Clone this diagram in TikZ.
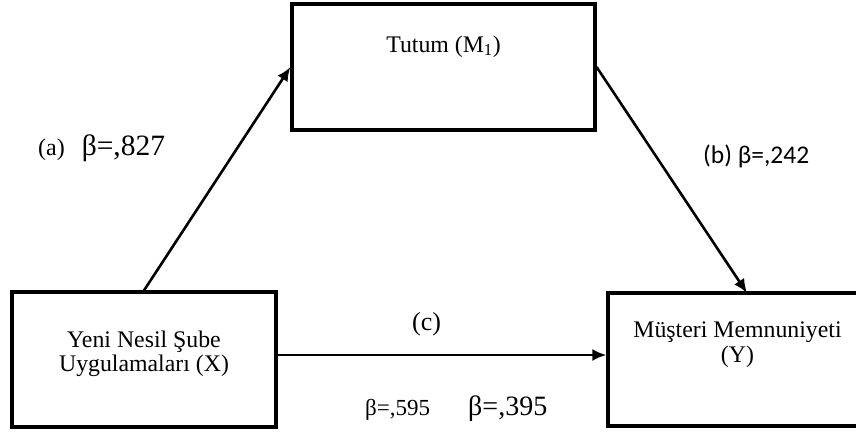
\documentclass[tikz,border=0pt]{standalone}
\usepackage{fontspec}
\setmainfont{Liberation Serif}
\newfontfamily\calibrifont{Carlito}
\usetikzlibrary{arrows.meta}
\begin{document}
\begin{tikzpicture}[x=1pt,y=-1pt,
  varbox/.style={draw=black, line width=3.2pt, rectangle, inner sep=0pt},
  boxtext/.style={font=\fontsize{23.8}{25}\selectfont, inner sep=0pt, anchor=base},
  pathline/.style={line width=2.6pt, -{Latex[length=14pt,width=12pt]}},
  coef/.style={inner sep=0pt, anchor=base west}
]
\useasboundingbox (0,0) rectangle (856,432);
\clip (0,0) rectangle (856,432);
\fill[white] (0,0) rectangle (856,432);

% boxes
\node[varbox, minimum width=303pt, minimum height=126pt] (M) at (443.5,67) {};
\node[varbox, minimum width=264pt, minimum height=135pt] (X) at (144,359.5) {};
\node[varbox, minimum width=259pt, minimum height=133pt] (Y) at (737.5,359.5) {};

% box texts
\node[boxtext] (Mt) at (443.5,52) {Tutum (M\textsubscript{1})};
\node[boxtext] (Xt1) at (144,347) {Yeni Nesil Şube};
\node[boxtext] (Xt2) at (144,371) {Uygulamaları (X)};
\node[boxtext] (Yt1) at (737.5,337) {Müşteri Memnuniyeti};
\node[boxtext] (Yt2) at (737.5,362) {(Y)};

% connectors
\coordinate (bend) at (747,293);
\draw[pathline] (X.north) -- (M.west);
\draw[pathline] (M.east) -- (bend);
\draw[pathline] ([yshift=4.5pt]X.east) -- ([yshift=4.5pt]Y.west);

% coefficient labels
\node[coef] (la) at (38,155) {\fontsize{24}{25}\selectfont (a)\hspace{17pt}\fontsize{29.5}{30}\selectfont β=,827};
\node[coef] (lb) at (703,163) {\calibrifont\fontsize{25.5}{26}\selectfont (b) β=,242};
\node[coef] (lc) at (412,330) {\fontsize{26}{27}\selectfont (c)};
\node[coef] (ld) at (365,415) {\fontsize{23}{25}\selectfont β=,595};
\node[coef] (le) at (468,415) {\fontsize{28}{30}\selectfont β=,395};
\end{tikzpicture}
\end{document}
